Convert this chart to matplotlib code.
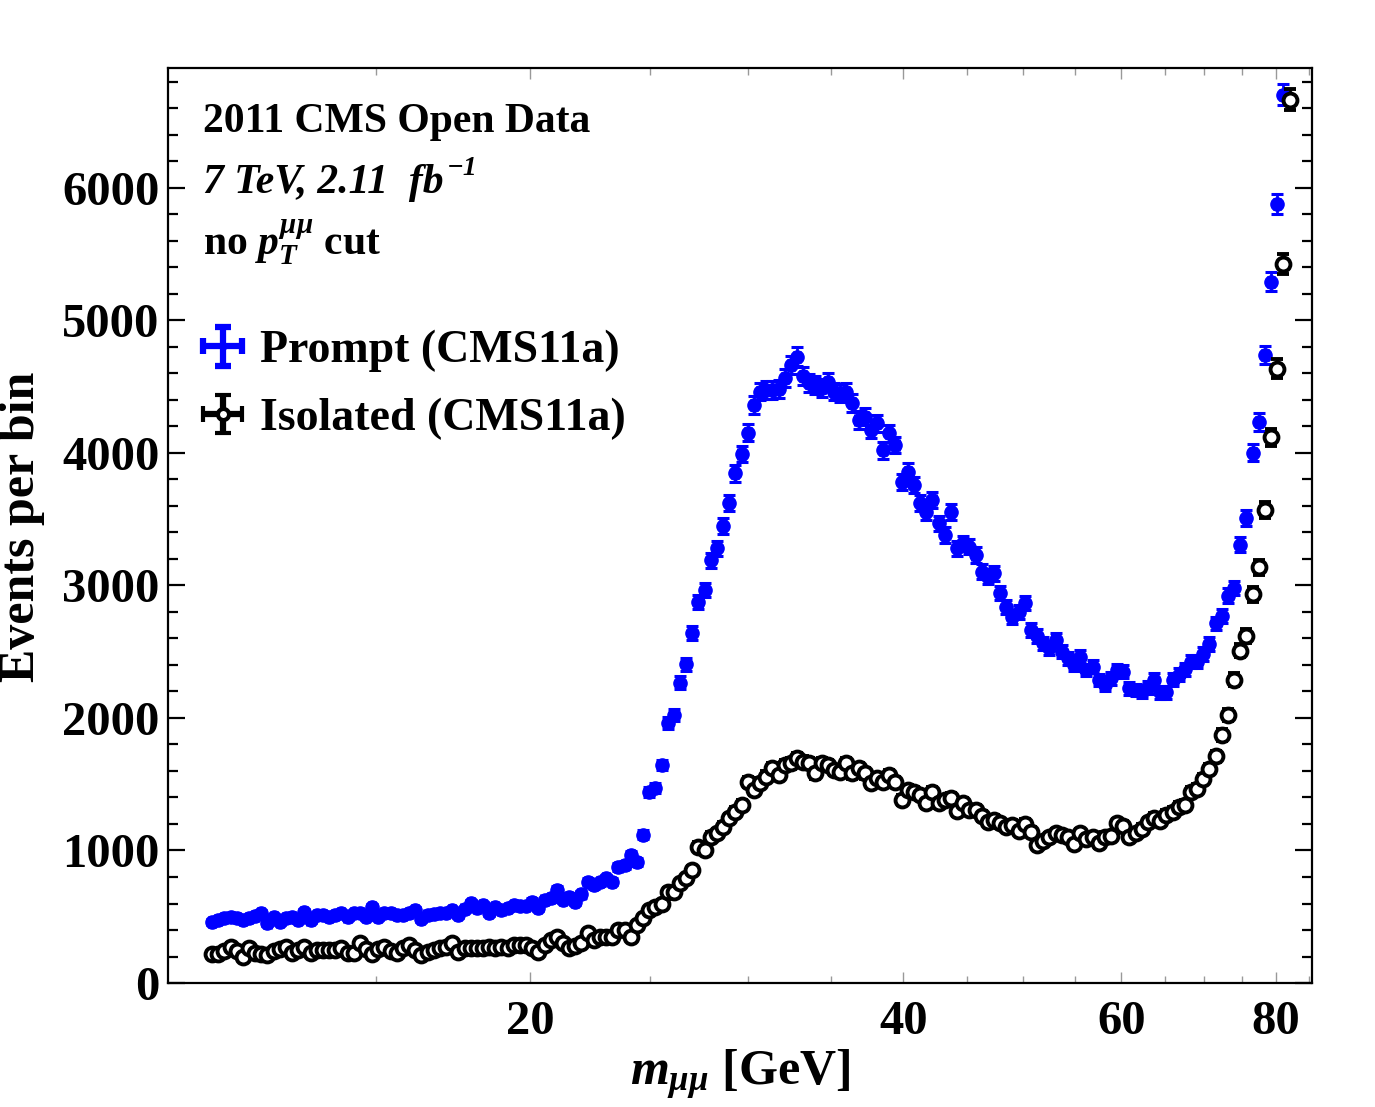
import numpy as np
import matplotlib
matplotlib.use('Agg')
import matplotlib.pyplot as plt
from matplotlib.ticker import FixedLocator, FixedFormatter, NullFormatter, MultipleLocator
from matplotlib.legend_handler import HandlerErrorbar

plt.rcParams['font.family'] = 'Liberation Serif'
plt.rcParams['font.weight'] = 'bold'
plt.rcParams['mathtext.fontset'] = 'custom'
plt.rcParams['mathtext.rm'] = 'Liberation Serif:bold'
plt.rcParams['mathtext.it'] = 'Liberation Serif:italic:bold'
plt.rcParams['mathtext.bf'] = 'Liberation Serif:bold'

# log-spaced dimuon mass bins (centres, GeV)
mass_lo = 11.07
mass_hi = 82.0
n_bins = 176

# events per bin
prompt = [
    463, 475, 488, 500, 488, 475, 488, 505, 526, 450, 500, 463, 488, 500, 475, 538,
    475, 513, 513, 500, 513, 526, 500, 526, 526, 500, 576, 500, 526, 526, 513,
    513, 530, 551, 481, 513, 520, 526, 530, 550, 513, 560, 601, 564, 589, 526,
    576, 551, 564, 589, 581, 581, 614, 564, 626, 639, 702, 626, 651, 614, 670, 765,
    740, 760, 790, 765, 878, 891, 966, 916, 1120, 1444, 1469, 1645, 1960, 2023,
    2267, 2405, 2639, 2878, 2966, 3192, 3280,
    3449, 3625, 3846, 3992, 4153, 4360, 4463, 4475, 4475, 4481, 4563, 4664, 4727,
    4581, 4526, 4513, 4488, 4538, 4463, 4450, 4463, 4375, 4249, 4274, 4174, 4224,
    4020, 4148, 4060, 3783, 3859, 3758, 3620, 3557, 3645, 3469,
    3381, 3557, 3280, 3318, 3293, 3230, 3104, 3067, 3092, 2941, 2840, 2765, 2800,
    2866, 2664, 2620, 2564, 2526, 2589, 2500, 2451, 2400, 2463, 2362, 2387, 2287,
    2249, 2300, 2362, 2349, 2224, 2210, 2199, 2231,
    2289, 2193, 2193, 2289, 2328, 2366, 2424, 2424, 2483, 2559, 2713, 2770, 2924,
    2982, 3309, 3509, 4002, 4233, 4741, 5292, 5877, 6704,
]
isolated = [
    221, 219, 239, 272, 239, 199, 264, 224, 219, 211, 240, 257, 272, 224, 247, 272,
    224, 247, 252, 247, 247, 264, 224, 224, 302, 257, 221, 257, 272, 239, 224,
    262, 287, 250, 211, 236, 250, 262, 274, 300, 236, 262, 262, 262, 262, 274,
    262, 274, 262, 287, 287, 287, 262, 236, 287, 325, 349, 300, 262, 280, 300, 375,
    325, 350, 350, 350, 400, 400, 350, 438, 488, 551, 576, 600, 689, 689, 752, 790,
    853, 1029, 1004, 1104, 1130, 1180, 1243, 1293, 1343, 1519, 1457, 1507, 1557,
    1620, 1570,
    1645, 1658, 1696, 1670, 1658, 1582, 1658, 1645, 1607, 1595, 1658, 1582, 1620,
    1582, 1507, 1545, 1519, 1570, 1519, 1381, 1457, 1444, 1419, 1356, 1444, 1356,
    1381, 1394,
    1300, 1360, 1306, 1306, 1260, 1217, 1230, 1205, 1180, 1192, 1150, 1200, 1142,
    1041, 1070, 1100, 1130, 1117, 1104, 1050, 1130, 1085, 1100, 1054, 1104, 1110,
    1205, 1185, 1104, 1135, 1165, 1212, 1245, 1225, 1270, 1290, 1330, 1346, 1443,
    1462, 1539, 1616, 1712, 1870, 2020,
    2289, 2509, 2617, 2932, 3136, 3571, 4118, 4637, 5426, 6666,
]

x_major = [20, 40, 60, 80]
x_minor = [15, 25, 30, 35, 45, 50, 55, 65, 70, 75, 85]

BLUE = '#0000ff'
FONT = {'family': 'Liberation Serif', 'weight': 'bold'}
W, H = 1375, 1107


def half_widths(x):
    r = np.sqrt(x[1] / x[0])
    return np.vstack([x - x / r, x * r - x])


def main():
    mass = np.geomspace(mass_lo, mass_hi, n_bins)
    y_p = np.array(prompt, dtype=float)
    y_i = np.array(isolated, dtype=float)
    x_p = mass[:len(y_p)]
    x_i = mass[:len(y_i)]

    fig = plt.figure(figsize=(W / 100, H / 100), dpi=100)
    ax = fig.add_axes([0.1222, 0.112, 0.832, 0.8266])

    ax.errorbar(x_p, y_p, yerr=np.sqrt(y_p), xerr=half_widths(x_p), fmt='o',
                color=BLUE, ms=9.5, elinewidth=2, capsize=4, capthick=2.2, zorder=2)
    ax.errorbar(x_i, y_i, yerr=np.sqrt(y_i), xerr=half_widths(x_i), fmt='o',
                color='black', mfc='white', mec='black', mew=2.8, ms=10,
                elinewidth=2, capsize=4, capthick=2.2, zorder=3)

    # legend proxies (thicker cross, as in the original icon)
    h_p = ax.errorbar([np.nan], [np.nan], xerr=[1], yerr=[1], fmt='o', color=BLUE,
                      ms=5, elinewidth=4.5, capsize=5.5, capthick=4.5)
    h_i = ax.errorbar([np.nan], [np.nan], xerr=[1], yerr=[1], fmt='o', color='black',
                      mfc='white', mec='black', mew=3, ms=8, elinewidth=4.5,
                      capsize=5.5, capthick=4.5)

    ax.set_xscale('log')
    ax.set_xlim(10.2, 85.5)
    ax.set_ylim(0, 6905)

    ax.xaxis.set_major_locator(FixedLocator(x_major))
    ax.xaxis.set_major_formatter(FixedFormatter([str(v) for v in x_major]))
    ax.xaxis.set_minor_locator(FixedLocator(x_minor))
    ax.xaxis.set_minor_formatter(NullFormatter())
    ax.yaxis.set_major_locator(MultipleLocator(1000))
    ax.yaxis.set_minor_locator(MultipleLocator(200))

    ax.tick_params(axis='x', which='both', direction='in', top=True, bottom=True,
                   color='0.6', width=1, labelsize=35, pad=12)
    ax.tick_params(axis='x', which='major', length=8)
    ax.tick_params(axis='x', which='minor', length=5)
    ax.tick_params(axis='y', which='both', direction='in', left=True, right=True,
                   color='black', width=1.6, labelsize=35, pad=6)
    ax.tick_params(axis='y', which='major', length=12)
    ax.tick_params(axis='y', which='minor', length=7)
    for lab in ax.get_xticklabels() + ax.get_yticklabels():
        lab.set_fontweight('bold')
    for sp in ax.spines.values():
        sp.set_linewidth(1.6)

    fig.text(22 / W, 1 - 527 / H, 'Events per bin', rotation=90,
             ha='center', va='center', fontsize=36, fontweight='bold')
    fig.text(740 / W, 1 - 1075 / H, r'$m_{\mu\mu}$ [GeV]',
             ha='center', va='center', fontsize=36, fontweight='bold')

    fig.text(203 / W, 1 - 132 / H, '2011 CMS Open Data',
             ha='left', va='baseline', fontsize=30, fontweight='bold')
    lumi = fig.text(203 / W, 1 - 193 / H, '7 TeV, 2.11  fb',
                    ha='left', va='baseline', fontsize=30, fontweight='bold',
                    style='italic')
    fig.canvas.draw()
    bb = lumi.get_window_extent()
    fig.text((bb.x1 + 3) / W, 1 - 175 / H, '\u22121',
             ha='left', va='baseline', fontsize=20, fontweight='bold', style='italic')
    fig.text(203 / W, 1 - 255 / H, r'no $p_T^{\mu\mu}$ cut',
             ha='left', va='baseline', fontsize=30, fontweight='bold')

    ax.legend(handles=[h_p, h_i], labels=['Prompt (CMS11a)', 'Isolated (CMS11a)'],
              loc='upper left',
              bbox_to_anchor=((203 - 168) / 1144, (983 - 330) / 915),
              frameon=False, prop=dict(FONT, size=33),
              handlelength=0.85, handletextpad=0.4, labelspacing=0.55,
              borderaxespad=0, borderpad=0,
              handler_map={type(h_p): HandlerErrorbar(xerr_size=0.42, yerr_size=0.42)})

    fig.savefig('out.png', dpi=100)
    plt.close(fig)


if __name__ == '__main__':
    main()
